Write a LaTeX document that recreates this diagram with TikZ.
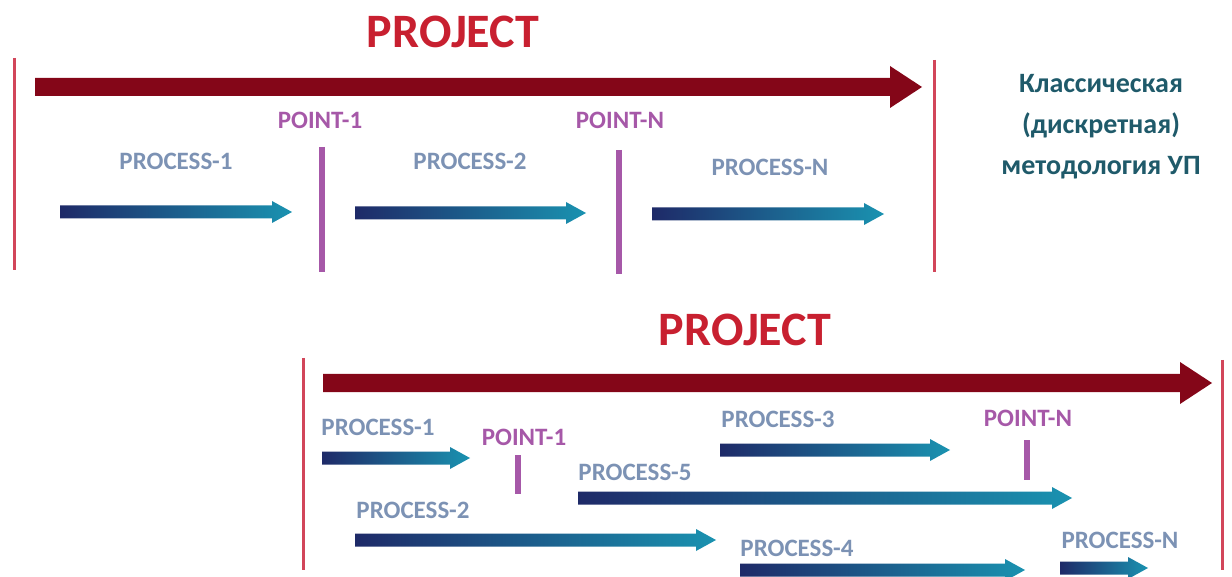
\documentclass[tikz,border=0pt]{standalone}
\usepackage{fontspec}
\setmainfont{Carlito}
\usetikzlibrary{positioning}
\definecolor{ProjRed}{RGB}{132,6,24}
\definecolor{TitleRed}{RGB}{200,32,48}
\definecolor{EdgeRed}{RGB}{210,70,90}
\definecolor{PointPurple}{RGB}{166,88,168}
\definecolor{ProcNavy}{RGB}{30,42,104}
\definecolor{ProcTeal}{RGB}{26,146,176}
\definecolor{LabelBlue}{RGB}{124,146,180}
\definecolor{NoteTeal}{RGB}{31,90,106}

% process arrow: start x, tip x, y
\newcommand{\procarrow}[3]{%
  \shade[left color=ProcNavy, middle color=ProcNavy!75!ProcTeal, right color=ProcTeal]
    (#1,#3) ++(0,-6.5) -- ++(#2-#1-20,0) -- ++(0,-4.5) -- ++(20,11)
    -- ++(-20,11) -- ++(0,-4.5) -- ++(#1-#2+20,0) -- cycle;}
% project arrow: start x, tip x, y
\newcommand{\projarrow}[3]{%
  \fill[ProjRed]
    (#1,#3) ++(0,-9) -- ++(#2-#1-32,0) -- ++(0,-12) -- ++(32,21)
    -- ++(-32,21) -- ++(0,-12) -- ++(#1-#2+32,0) -- cycle;}

\begin{document}
\begin{tikzpicture}[x=0.5pt, y=-0.5pt, font=\bfseries,
  title/.style={anchor=base, text=TitleRed, font=\bfseries\fontsize{24}{28}\selectfont},
  proclabel/.style={anchor=base, text=LabelBlue, font=\bfseries\fontsize{12.5}{15}\selectfont},
  pointlabel/.style={anchor=base, text=PointPurple, font=\bfseries\fontsize{12.5}{15}\selectfont},
  edge/.style={EdgeRed, line width=1.5pt},
  milestone/.style={PointPurple, line width=3pt}]
  \useasboundingbox (0,0) rectangle (1232,577);

  % classic (discrete) scheme
  \node[title] (proj-a) at (453,48) {PROJECT};
  \draw[edge] (14,58) -- (14,270);
  \draw[edge] (934,60) -- (934,272);
  \projarrow{35}{922}{87}
  \node[pointlabel] (pt1-a) at (320,129) {POINT-1};
  \node[pointlabel] (ptn-a) at (620,129) {POINT-N};
  \draw[milestone] (322,147) -- (322,272);
  \draw[milestone] (619,150) -- (619,274);
  \node[proclabel] (pr1-a) at (176,170) {PROCESS-1};
  \node[proclabel] (pr2-a) at (470,170) {PROCESS-2};
  \node[proclabel] (prn-a) at (770,176) {PROCESS-N};
  \procarrow{60}{292}{212}
  \procarrow{355}{586}{213}
  \procarrow{652}{884}{214}
  \node[align=center, text=NoteTeal, font=\bfseries\fontsize{14}{20.5}\selectfont]
    (note) at (1101,127) {Классическая\\(дискретная)\\методология УП};

  % overlapping scheme
  \node[title] (proj-b) at (745,346) {PROJECT};
  \draw[edge] (303,358) -- (303,570);
  \draw[edge] (1222,360) -- (1222,570);
  \projarrow{323}{1212}{383}
  \node[proclabel] (pr1-b) at (378,436) {PROCESS-1};
  \node[pointlabel] (pt1-b) at (524,445) {POINT-1};
  \node[proclabel] (pr3-b) at (778,427) {PROCESS-3};
  \node[pointlabel] (ptn-b) at (1028,426) {POINT-N};
  \node[proclabel] (pr5-b) at (635,480) {PROCESS-5};
  \node[proclabel] (pr2-b) at (413,518) {PROCESS-2};
  \node[proclabel] (pr4-b) at (797,556) {PROCESS-4};
  \node[proclabel] (prn-b) at (1120,548) {PROCESS-N};
  \draw[milestone] (518,455) -- (518,494);
  \draw[milestone] (1027,440) -- (1027,480);
  \procarrow{322}{470}{458}
  \procarrow{720}{950}{450}
  \procarrow{578}{1072}{498}
  \procarrow{355}{716}{540}
  \procarrow{740}{1025}{570}
  \procarrow{1060}{1148}{568}
\end{tikzpicture}
\end{document}
